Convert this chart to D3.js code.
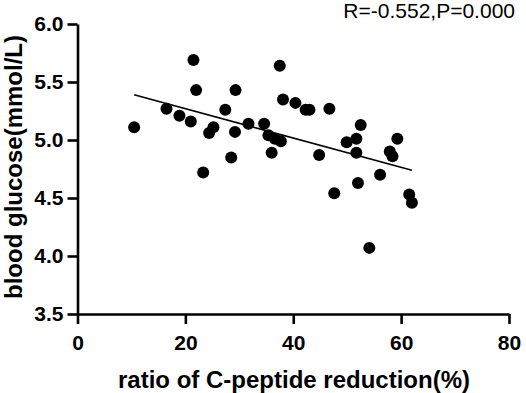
<!DOCTYPE html>
<html>
<head>
<meta charset="utf-8">
<script src="https://cdn.jsdelivr.net/npm/d3@7"></script>
<style>
  html, body { margin: 0; padding: 0; background: #fff; }
  svg { display: block; font-family: "Liberation Sans", Arial, sans-serif; }
</style>
</head>
<body>
<svg id="chart" width="526" height="393"></svg>
<script>
// ---- data ----
const ratioValues = [10.5, 16.5, 18.9, 21.0, 21.5, 22.0, 23.3, 24.4, 25.2, 27.4,
  28.5, 29.2, 29.3, 31.7, 34.6, 35.4, 36.0, 36.6, 37.5, 37.7,
  38.1, 40.4, 42.3, 43.0, 44.8, 46.7, 47.6, 49.9, 51.7, 51.7,
  52.0, 52.5, 54.1, 56.1, 57.9, 58.4, 59.3, 61.5, 62.0];
const glucoseValues = [5.11, 5.27, 5.21, 5.16, 5.69, 5.43, 4.72, 5.06, 5.11, 5.26,
  4.85, 5.07, 5.43, 5.14, 5.14, 5.04, 4.89, 5.01, 5.64, 4.99,
  5.35, 5.32, 5.26, 5.26, 4.87, 5.27, 4.54, 4.98, 5.01, 4.89,
  4.63, 5.13, 4.07, 4.70, 4.90, 4.86, 5.01, 4.53, 4.46];
const fitX = [10.5, 62.0];
const fitY = [5.39, 4.74];
const xTicks = [0, 20, 40, 60, 80];
const yTicks = [3.5, 4.0, 4.5, 5.0, 5.5, 6.0];
const statText = "R=-0.552,P=0.000";
const xTitle = "ratio of C-peptide reduction(%)";
const yTitle = "blood glucose(mmol/L)";

// ---- layout ----
const svg = d3.select("#chart");
const x = d3.scaleLinear().domain([0, 80]).range([77.5, 509]);
const y = d3.scaleLinear().domain([3.5, 6.0]).range([314, 24]);

// axes
const xAxis = svg.append("g").attr("transform", `translate(0,${y(3.5)})`)
  .call(d3.axisBottom(x).tickValues(xTicks).tickSize(10).tickSizeOuter(0).tickPadding(11).tickFormat(d3.format("d")));
const yAxis = svg.append("g").attr("transform", `translate(${x(0)},0)`)
  .call(d3.axisLeft(y).tickValues(yTicks).tickSize(10).tickSizeOuter(0).tickPadding(4).tickFormat(d3.format(".1f")));

[xAxis, yAxis].forEach(g => {
  g.select(".domain").attr("stroke", "#000").attr("stroke-width", 2.6);
  g.selectAll(".tick line").attr("stroke", "#000").attr("stroke-width", 2.6);
  g.selectAll(".tick text").attr("fill", "#000").attr("font-size", 21).attr("font-weight", "bold")
    .attr("font-family", "'Liberation Sans', Arial, sans-serif");
});
xAxis.selectAll(".tick text").attr("dy", "0.71em");

// regression line
svg.append("line")
  .attr("x1", x(fitX[0])).attr("y1", y(fitY[0]))
  .attr("x2", x(fitX[1])).attr("y2", y(fitY[1]))
  .attr("stroke", "#000").attr("stroke-width", 1.6);

// points
svg.append("g").selectAll("circle")
  .data(ratioValues.map((v, i) => [v, glucoseValues[i]]))
  .join("circle")
  .attr("cx", d => x(d[0]))
  .attr("cy", d => y(d[1]))
  .attr("r", 6)
  .attr("fill", "#000");

// stat text
svg.append("text").attr("x", 515).attr("y", 18).attr("text-anchor", "end")
  .attr("font-size", 21).attr("fill", "#000").text(statText);

// axis titles
svg.append("text").attr("x", 294).attr("y", 388).attr("text-anchor", "middle")
  .attr("font-size", 24).attr("font-weight", "bold").attr("fill", "#000").text(xTitle);
svg.append("text").attr("transform", "translate(22,167) rotate(-90)").attr("text-anchor", "middle")
  .attr("font-size", 24).attr("font-weight", "bold").attr("fill", "#000").text(yTitle);
</script>
</body>
</html>
